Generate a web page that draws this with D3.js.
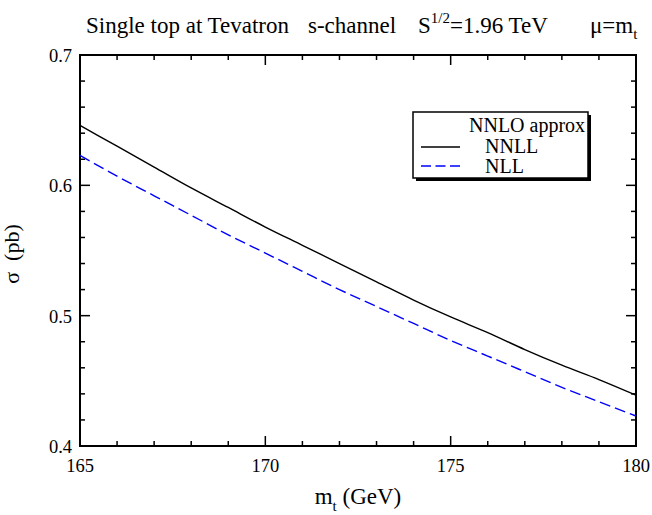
<!DOCTYPE html>
<html><head><meta charset="utf-8">
<script src="https://cdn.jsdelivr.net/npm/d3@7"></script>
<style>body{margin:0;background:#fff}svg{display:block}text{font-family:"Liberation Serif","Times New Roman",serif;fill:#000;white-space:pre}</style>
</head><body><svg id="c" width="652" height="515"></svg>
<script>
const mt = [165,166,167,168,169,170,171,172,173,174,175,176,177,178,179,180];
const nnll = [0.646,0.630,0.614,0.598,0.583,0.568,0.554,0.540,0.526,0.512,0.499,0.487,0.474,0.462,0.451,0.439];
const nll  = [0.623,0.607,0.592,0.577,0.562,0.548,0.534,0.520,0.507,0.494,0.481,0.469,0.457,0.445,0.434,0.423];
const xTicks = [165,170,175,180];
const yTicks = [0.4,0.5,0.6,0.7];

const svg = d3.select("#c");
const L=80,R=636,T=55,B=446;
const x = d3.scaleLinear().domain([165,180]).range([L,R]);
const y = d3.scaleLinear().domain([0.4,0.7]).range([B,T]);

const g = svg.append("g");
const xMinor = d3.range(165,181,1);
const yMinor = d3.range(0,16).map(i=>+(0.4+i*0.02).toFixed(2));
function isMajX(v){return xTicks.includes(v);}
function isMajY(v){return yTicks.some(t=>Math.abs(t-v)<1e-6);}
xMinor.forEach(v=>{
  const len = isMajX(v)?10:5;
  g.append("line").attr("x1",x(v)).attr("x2",x(v)).attr("y1",B).attr("y2",B-len).attr("stroke","#000").attr("stroke-width",1.5);
  g.append("line").attr("x1",x(v)).attr("x2",x(v)).attr("y1",T).attr("y2",T+len).attr("stroke","#000").attr("stroke-width",1.5);
});
yMinor.forEach(v=>{
  const len = isMajY(v)?10:5;
  g.append("line").attr("y1",y(v)).attr("y2",y(v)).attr("x1",L).attr("x2",L+len).attr("stroke","#000").attr("stroke-width",1.5);
  g.append("line").attr("y1",y(v)).attr("y2",y(v)).attr("x1",R).attr("x2",R-len).attr("stroke","#000").attr("stroke-width",1.5);
});
g.append("rect").attr("x",L).attr("y",T).attr("width",R-L).attr("height",B-T).attr("fill","none").attr("stroke","#000").attr("stroke-width",2);

xTicks.forEach(v=>g.append("text").attr("x",x(v)).attr("y",B+26).attr("text-anchor","middle").attr("font-size",18.5).text(v));
yTicks.forEach(v=>g.append("text").attr("x",L-8).attr("y",y(v)+7).attr("text-anchor","end").attr("font-size",18.5).text(v.toFixed(1)));

const line = d3.line().x((d,i)=>x(mt[i])).y(d=>y(d)).curve(d3.curveMonotoneX);
g.append("path").datum(nnll).attr("d",line).attr("fill","none").attr("stroke","#000").attr("stroke-width",1.4);
g.append("path").datum(nll).attr("d",line).attr("fill","none").attr("stroke","#0000ff").attr("stroke-width",1.4).attr("stroke-dasharray","11,5");

// title
const TY=33, TF=23;
svg.append("text").attr("x",86).attr("y",TY).attr("font-size",TF).text("Single top at Tevatron");
svg.append("text").attr("x",308).attr("y",TY).attr("font-size",TF).text("s-channel");
const t3 = svg.append("text").attr("x",418).attr("y",TY).attr("font-size",TF);
t3.append("tspan").text("S");
t3.append("tspan").attr("dy",-10).attr("font-size",15).text("1/2");
t3.append("tspan").attr("dy",10).text("=1.96 TeV");
const t4 = svg.append("text").attr("x",590).attr("y",TY).attr("font-size",TF);
t4.append("tspan").text("\u03bc=m");
t4.append("tspan").attr("dy",6).attr("font-size",15).text("t");

// axis titles
const xt = svg.append("text").attr("x",358).attr("y",504).attr("text-anchor","middle").attr("font-size",23);
xt.append("tspan").text("m");
xt.append("tspan").attr("dy",7).attr("font-size",15).text("t");
xt.append("tspan").attr("dy",-7).text(" (GeV)");
svg.append("text").attr("transform","translate(19,254) rotate(-90)").attr("text-anchor","middle").attr("font-size",22).text("\u03c3  (pb)");

// legend
const lg = svg.append("g");
lg.append("rect").attr("x",416).attr("y",115).attr("width",175).attr("height",66).attr("fill","#000");
lg.append("rect").attr("x",413).attr("y",112).attr("width",175).attr("height",66).attr("fill","#fff").attr("stroke","#000").attr("stroke-width",1.5);
lg.append("text").attr("x",469).attr("y",132).attr("font-size",20).text("NNLO approx");
lg.append("line").attr("x1",421).attr("x2",460).attr("y1",147).attr("y2",147).attr("stroke","#000").attr("stroke-width",1.4);
lg.append("text").attr("x",485).attr("y",153).attr("font-size",20).text("NNLL");
lg.append("line").attr("x1",421).attr("x2",460).attr("y1",166).attr("y2",166).attr("stroke","#0000ff").attr("stroke-width",1.4).attr("stroke-dasharray","10,4.5");
lg.append("text").attr("x",485).attr("y",173).attr("font-size",20).text("NLL");
</script></body></html>
